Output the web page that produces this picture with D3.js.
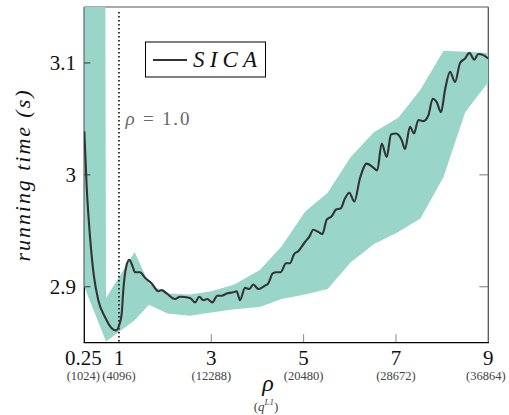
<!DOCTYPE html>
<html>
<head>
<meta charset="utf-8">
<script src="https://cdn.jsdelivr.net/npm/d3@7"></script>
<style>
body { margin: 0; background: #fff; }
svg { display: block; }
</style>
</head>
<body>
<svg width="509" height="415"></svg>
<script>
// SICA running time vs rho
const lineRho = [0.25, 0.302, 0.373, 0.46, 0.553, 0.698, 0.843, 0.937, 1.008, 1.06, 1.095, 1.153, 1.225, 1.298, 1.348, 1.457, 1.565, 1.71, 1.853, 1.926, 2.035, 2.214, 2.323, 2.539, 2.648, 2.741, 2.827, 2.914, 3.022, 3.131, 3.226, 3.334, 3.477, 3.551, 3.622, 3.731, 3.824, 3.91, 4.019, 4.164, 4.235, 4.331, 4.417, 4.504, 4.619, 4.705, 4.792, 4.889, 5.03, 5.128, 5.21, 5.318, 5.405, 5.5, 5.608, 5.702, 5.803, 5.897, 5.99, 6.098, 6.221, 6.367, 6.496, 6.596, 6.691, 6.8, 6.893, 7.001, 7.125, 7.196, 7.304, 7.391, 7.484, 7.592, 7.701, 7.796, 7.883, 7.976, 8.063, 8.171, 8.28, 8.388, 8.496, 8.589, 8.697, 8.784, 8.892, 9.0];
const lineTime = [3.039, 2.989, 2.945, 2.909, 2.888, 2.873, 2.863, 2.861, 2.866, 2.876, 2.897, 2.917, 2.924, 2.918, 2.913, 2.913, 2.908, 2.903, 2.896, 2.897, 2.894, 2.889, 2.891, 2.89, 2.886, 2.891, 2.888, 2.889, 2.886, 2.892, 2.892, 2.894, 2.895, 2.896, 2.888, 2.899, 2.898, 2.902, 2.898, 2.901, 2.903, 2.912, 2.913, 2.913, 2.921, 2.921, 2.929, 2.932, 2.94, 2.945, 2.951, 2.949, 2.947, 2.96, 2.963, 2.969, 2.97, 2.979, 2.984, 2.976, 2.997, 3.01, 3.007, 3.004, 3.028, 3.016, 3.036, 3.037, 3.031, 3.023, 3.043, 3.037, 3.049, 3.048, 3.053, 3.068, 3.065, 3.056, 3.076, 3.092, 3.083, 3.1, 3.104, 3.109, 3.103, 3.108, 3.107, 3.104];

// spread band (first upper value is far off the chart)
const bandRho = [0.25, 0.72, 1.34, 1.65, 2.05, 2.54, 3.0, 3.5, 4.05, 4.52, 5.03, 5.52, 6.02, 6.52, 7.05, 7.53, 8.03, 8.5, 9.0];
const bandUpper = [12, 2.890, 2.931, 2.903, 2.894, 2.893, 2.896, 2.902, 2.915, 2.936, 2.967, 2.984, 3.016, 3.038, 3.051, 3.076, 3.111, 3.110, 3.109];
const bandLower = [2.900, 2.851, 2.870, 2.884, 2.876, 2.874, 2.877, 2.880, 2.882, 2.889, 2.893, 2.898, 2.922, 2.938, 2.949, 2.961, 2.998, 3.056, 3.083];

const xTicks = [0.25, 1, 3, 5, 7, 9];
const xTickLabels = ["0.25", "1", "3", "5", "7", "9"];
const xSubLabels = ["(1024)", "(4096)", "(12288)", "(20480)", "(28672)", "(36864)"];
const yTicks = [2.9, 3, 3.1];
const yTickLabels = ["2.9", "3", "3.1"];

const serif = "'Liberation Serif', 'Times New Roman', 'DejaVu Serif', serif";

const x = d3.scaleLinear().domain([0.25, 9]).range([84.3, 488.3]);
const y = d3.scaleLinear().domain([2.85, 3.15]).range([342.7, 7]);
const [x0, x1] = x.range();
const [yb, yt] = y.range();

const svg = d3.select("svg").attr("font-family", serif);

svg.append("clipPath").attr("id", "plot")
  .append("rect").attr("x", x0 - 0.5).attr("y", yt).attr("width", x1 - x0 + 1).attr("height", yb - yt);

// top and right frame, gray
svg.append("line").attr("x1", x0).attr("x2", x1).attr("y1", yt).attr("y2", yt)
  .attr("stroke", "#8c8c8c").attr("stroke-width", 1.3);
svg.append("line").attr("x1", x1).attr("x2", x1).attr("y1", yt).attr("y2", yb)
  .attr("stroke", "#555").attr("stroke-width", 1.3);
// left spine
svg.append("line").attr("x1", x0).attr("x2", x0).attr("y1", yt).attr("y2", yb)
  .attr("stroke", "#000").attr("stroke-width", 1.3);

// right inner ticks (under band)
svg.selectAll("line.rtick").data(yTicks).join("line").attr("class", "rtick")
  .attr("x1", x1 - 9).attr("x2", x1)
  .attr("y1", d => y(d)).attr("y2", d => y(d))
  .attr("stroke", "#777").attr("stroke-width", 1);
// bottom inner ticks
svg.selectAll("line.btick").data(xTicks.filter(d => d > 1 && d < 9)).join("line").attr("class", "btick")
  .attr("x1", d => x(d)).attr("x2", d => x(d))
  .attr("y1", yb - 8.5).attr("y2", yb)
  .attr("stroke", "#888").attr("stroke-width", 1);

const band = d3.area()
  .x((d, i) => x(bandRho[i]))
  .y0((d, i) => y(bandLower[i]))
  .y1((d, i) => y(bandUpper[i]));
svg.append("path").attr("clip-path", "url(#plot)")
  .attr("d", band(bandRho))
  .attr("fill", "#99d5c8");

// bottom spine
svg.append("line").attr("x1", x0 - 0.6).attr("x2", x1 + 0.6).attr("y1", yb).attr("y2", yb)
  .attr("stroke", "#000").attr("stroke-width", 1.3);

// left ticks
svg.selectAll("line.ltick").data(yTicks).join("line").attr("class", "ltick")
  .attr("x1", x0).attr("x2", x0 + 6)
  .attr("y1", d => y(d)).attr("y2", d => y(d))
  .attr("stroke", "#333").attr("stroke-width", 1);

// rho = 1 marker
svg.append("line").attr("x1", x(1)).attr("x2", x(1)).attr("y1", 12).attr("y2", yb)
  .attr("stroke", "#222").attr("stroke-width", 1.8).attr("stroke-dasharray", "1.5,2.5");

const line = d3.line()
  .x((d, i) => x(lineRho[i]))
  .y(d => y(d))
  .curve(d3.curveMonotoneX);
svg.append("path").attr("clip-path", "url(#plot)")
  .attr("d", line(lineTime))
  .attr("fill", "none").attr("stroke", "#333").attr("stroke-width", 2.1)
  .attr("stroke-linejoin", "round");

// tick labels
svg.selectAll("text.xl").data(xTicks).join("text").attr("class", "xl")
  .attr("x", d => x(d) - (d === 0.25 ? 1 : 0)).attr("y", 365)
  .attr("text-anchor", "middle").attr("font-size", 21).attr("fill", "#111")
  .text((d, i) => xTickLabels[i]);
svg.selectAll("text.xs").data(xTicks).join("text").attr("class", "xs")
  .attr("x", d => x(d) + (d === 9 ? -2.5 : d === 0.25 ? -1 : 0)).attr("y", 380)
  .attr("text-anchor", "middle").attr("font-size", 12.5).attr("fill", "#444")
  .text((d, i) => xSubLabels[i]);
svg.selectAll("text.yl").data(yTicks).join("text").attr("class", "yl")
  .attr("x", 76).attr("y", d => y(d) + 7)
  .attr("text-anchor", "end").attr("font-size", 21).attr("fill", "#111")
  .text((d, i) => yTickLabels[i]);

// axis titles
svg.append("text").attr("x", 268).attr("y", 391)
  .attr("text-anchor", "middle").attr("font-size", 24).attr("font-style", "italic")
  .attr("fill", "#111").text("ρ");
const sub = svg.append("text").attr("x", 266).attr("y", 411)
  .attr("text-anchor", "middle").attr("font-size", 13).attr("fill", "#444");
sub.append("tspan").text("(");
sub.append("tspan").attr("font-style", "italic").text("q");
sub.append("tspan").attr("font-style", "italic").attr("font-size", 9).attr("dy", -6).text("L1");
sub.append("tspan").attr("dy", 6).text(")");

svg.append("text").attr("transform", "translate(30,176) rotate(-90)")
  .attr("text-anchor", "middle").attr("font-size", 22).attr("font-style", "italic")
  .attr("fill", "#111").attr("textLength", 171).attr("lengthAdjust", "spacing")
  .text("running time (s)");

svg.append("text").attr("x", x(1) + 6.5).attr("y", 125)
  .attr("font-size", 19).attr("fill", "#666").attr("textLength", 64).attr("lengthAdjust", "spacing")
  .html('<tspan font-style="italic">ρ</tspan> = 1.0');

// legend
const lg = svg.append("g");
lg.append("rect").attr("x", 145.5).attr("y", 42).attr("width", 120).attr("height", 35)
  .attr("fill", "#fff").attr("stroke", "#000").attr("stroke-width", 1);
lg.append("line").attr("x1", 153).attr("x2", 187).attr("y1", 60).attr("y2", 60)
  .attr("stroke", "#333").attr("stroke-width", 2.1);
lg.append("text").attr("x", 193).attr("y", 67).attr("font-size", 23).attr("font-style", "italic")
  .attr("fill", "#111").attr("textLength", 64).attr("lengthAdjust", "spacing").text("SICA");
</script>
</body>
</html>
